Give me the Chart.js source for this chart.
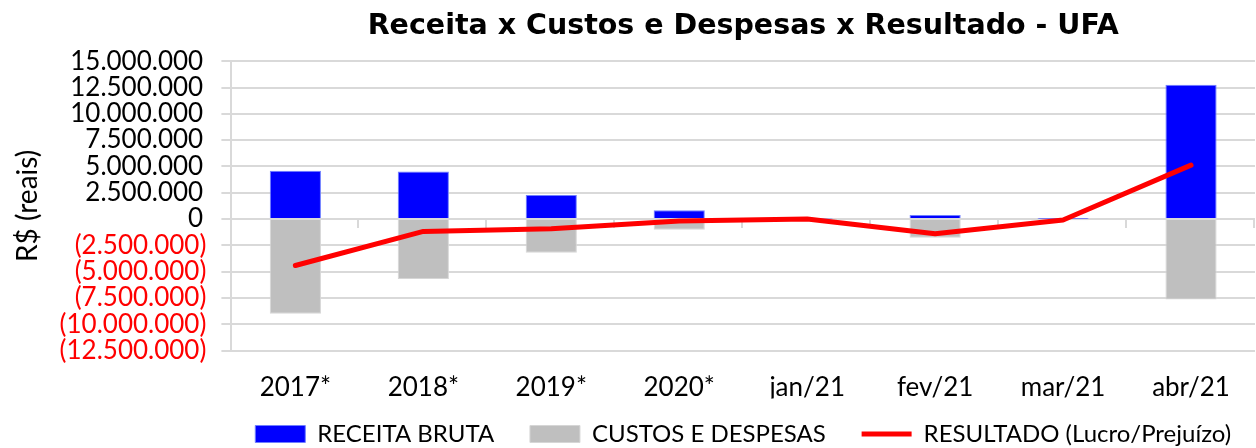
<!DOCTYPE html>
<html>
<head>
<meta charset="utf-8">
<script src="https://cdn.jsdelivr.net/npm/chart.js@4"></script>
<style>
  html, body { margin: 0; padding: 0; background: #fff; }
  #wrap { width: 1256px; height: 448px; }
</style>
</head>
<body>
<div id="wrap"><canvas id="grafico"></canvas></div>
<script>
// dados
var periodos = ["2017*", "2018*", "2019*", "2020*", "jan/21", "fev/21", "mar/21", "abr/21"];
var receitaBruta = [4580000, 4520000, 2290000, 830000, 50000, 380000, 20000, 12770000];
var custosDespesas = [-9000000, -5700000, -3220000, -1020000, -40000, -1780000, -110000, -7650000];
var resultado = [-4420000, -1180000, -930000, -190000, 10000, -1400000, -90000, 5120000];

function formatarReais(v) {
    var s = Math.abs(v).toString().replace(/\B(?=(\d{3})+(?!\d))/g, ".");
    if (v < 0) return "(" + s + ")";
    return s + "\u2009";
}

// marcas do eixo horizontal sobre o zero
var marcasZero = {
    id: 'marcasZero',
    beforeDatasetsDraw: function(chart) {
        var x = chart.scales.x, y = chart.scales.y, ctx = chart.ctx;
        var y0 = y.getPixelForValue(0);
        var passo = (x.right - x.left) / periodos.length;
        ctx.save();
        ctx.strokeStyle = "#d9d9d9";
        ctx.lineWidth = 2;
        ctx.beginPath();
        for (var i = 1; i <= periodos.length; i++) {
            var px = Math.round(x.left + i * passo) - 1;
            ctx.moveTo(px, y0);
            ctx.lineTo(px, y0 + 9);
        }
        ctx.stroke();
        ctx.restore();
    }
};

// legenda mais baixa, perto da borda
var legendaBaixa = {
    id: 'legendaBaixa',
    beforeInit: function(chart) {
        var lg = chart.legend;
        if (!lg) return;
        var fitOriginal = lg.fit;
        lg.fit = function() {
            fitOriginal.call(this);
            this.height -= 8;
        };
    }
};

var ctx = document.getElementById("grafico").getContext('2d');
var myChart = new Chart(ctx, {
    type: 'bar',
    data: {
        labels: periodos,
        datasets: [{
            label: 'RECEITA BRUTA  ',
            data: receitaBruta,
            backgroundColor: "#0000ff",
            borderColor: "#6f7fff",
            borderWidth: 1,
            pointStyle: 'rect',
            stack: 'barras',
            barPercentage: 0.4,
            categoryPercentage: 1,
            order: 1
        }, {
            label: 'CUSTOS E DESPESAS  ',
            data: custosDespesas,
            backgroundColor: "#bfbfbf",
            borderColor: "#d6d6d6",
            borderWidth: 1,
            pointStyle: 'rect',
            stack: 'barras',
            barPercentage: 0.4,
            categoryPercentage: 1,
            order: 2
        }, {
            type: 'line',
            label: 'RESULTADO (Lucro/Prejuízo)',
            data: resultado,
            borderColor: "#ff0000",
            backgroundColor: "#ff0000",
            borderWidth: 5,
            borderCapStyle: 'round',
            borderJoinStyle: 'round',
            pointRadius: 0,
            pointHoverRadius: 0,
            pointStyle: 'line',
            tension: 0,
            stack: 'res',
            order: 0
        }]
    },
    options: {
        responsive: true,
        maintainAspectRatio: false,
        animation: false,
        layout: { padding: { left: 9, right: 1, top: 0, bottom: 0 } },
        plugins: {
            title: {
                display: true,
                fullSize: false,
                text: 'Receita x Custos e Despesas x Resultado - UFA',
                color: '#000',
                font: { family: 'DejaVu Sans', size: 28.5, weight: 'bold' },
                padding: { top: 9, bottom: 18 }
            },
            legend: {
                position: 'bottom',
                fullSize: false,
                labels: {
                    usePointStyle: true,
                    pointStyleWidth: 50,
                    boxHeight: 17,
                    color: '#000',
                    padding: 23.5,
                    font: { family: 'Lato', size: 24 },
                    sort: function(a, b) { return a.datasetIndex - b.datasetIndex; }
                }
            },
            tooltip: { enabled: false }
        },
        scales: {
            x: {
                stacked: true,
                grid: { display: false, drawTicks: false },
                border: { display: false },
                afterFit: function(scale) { scale.height = 48; },
                ticks: {
                    color: '#000',
                    padding: 22,
                    font: { family: 'Lato', size: 26 }
                }
            },
            y: {
                stacked: true,
                min: -12500000,
                max: 15000000,
                grid: { color: '#d9d9d9', lineWidth: 2, tickLength: 10 },
                border: { display: true, color: '#d9d9d9', width: 2 },
                title: {
                    display: true,
                    text: 'R$ (reais)',
                    color: '#000',
                    font: { family: 'Lato', size: 28 },
                    padding: { top: 2, bottom: 0 }
                },
                ticks: {
                    stepSize: 2500000,
                    autoSkip: false,
                    padding: 15,
                    font: { family: 'Lato', size: 26 },
                    color: function(c) { return c.tick.value < 0 ? '#ff0000' : '#000'; },
                    callback: function(v) { return formatarReais(v); }
                }
            }
        }
    },
    plugins: [marcasZero, legendaBaixa]
});
</script>
</body>
</html>
